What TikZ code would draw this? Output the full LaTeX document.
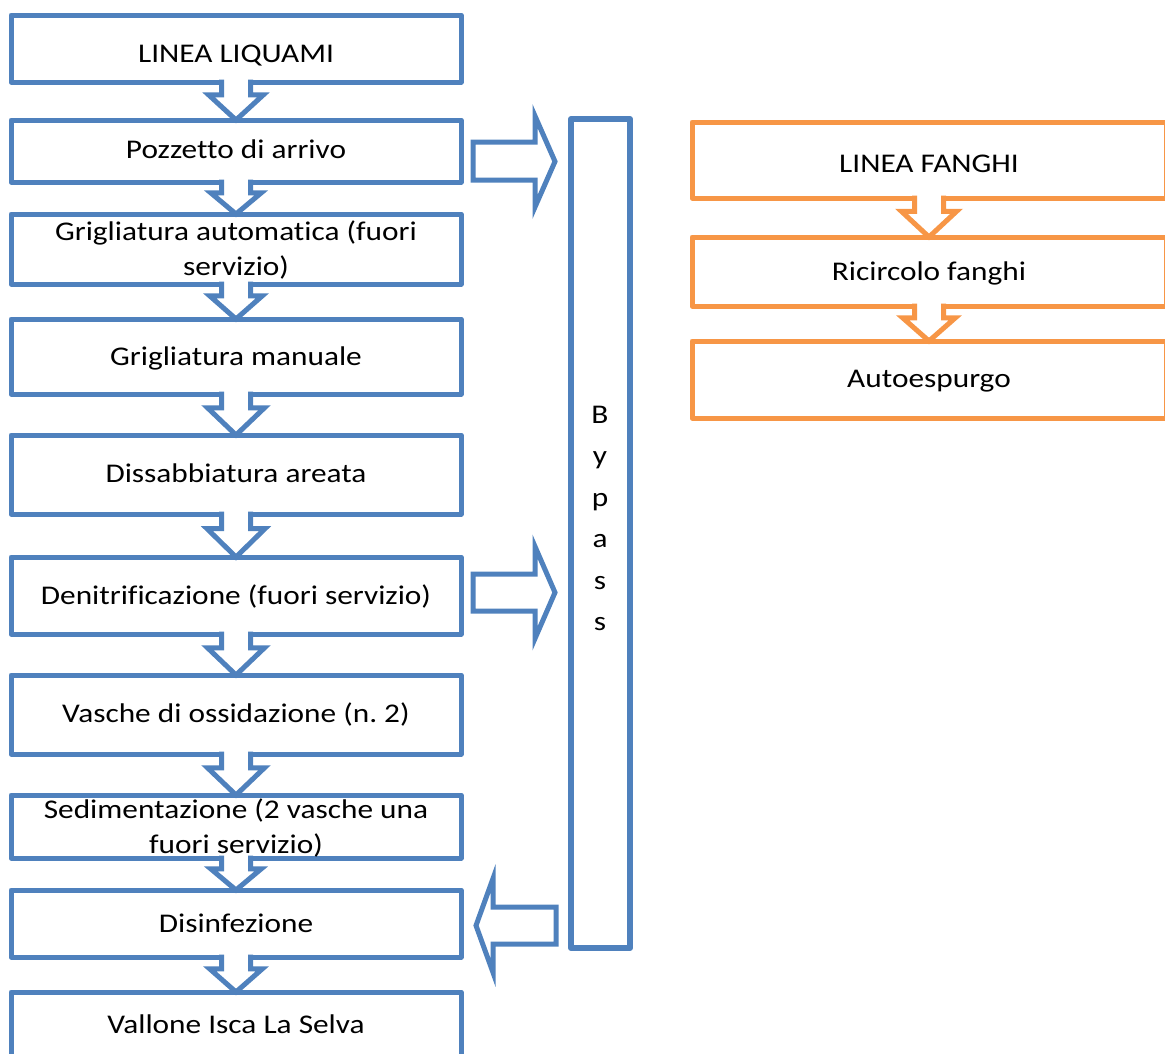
\documentclass[tikz,border=0pt]{standalone}
\usepackage{fontspec}
\setmainfont{Carlito}[FakeStretch=1.16, Ligatures={NoCommon}]
\usetikzlibrary{calc}
\definecolor{flowblue}{HTML}{4F81BD}
\definecolor{flowora}{HTML}{F79646}
\frenchspacing
% centred lines stacked in a \vtop, so the base anchor is the first baseline
\newcommand\linestack[1]{\vtop{\halign{\hfil##\hfil\cr#1\crcr}}}
% hollow downward chevron from the bottom of #1 to the top of #2, colour #3
\newcommand\downchev[3]{%
  \path[fill=white] let \p1=(#1.south), \p2=(#2.north), \n1={\y1-\y2},
      \n2={0.35*\n1+14pt}, \n3={0.66*\n1} in
    (\x1-14.5pt,\y1+2.5pt) -- (\x1-14.5pt,\y2+\n3) -- (\x1-\n2,\y2+\n3)
    -- (\x1,\y2) -- (\x1+\n2,\y2+\n3) -- (\x1+14.5pt,\y2+\n3)
    -- (\x1+14.5pt,\y1+2.5pt) -- cycle;
  \draw[chev,draw=#3] let \p1=(#1.south), \p2=(#2.north), \n1={\y1-\y2},
      \n2={0.35*\n1+14pt}, \n3={0.66*\n1} in
    (\x1-14.5pt,\y1+2.5pt) -- (\x1-14.5pt,\y2+\n3) -- (\x1-\n2,\y2+\n3)
    -- (\x1,\y2) -- (\x1+\n2,\y2+\n3) -- (\x1+14.5pt,\y2+\n3)
    -- (\x1+14.5pt,\y1+2.5pt);
}
\tikzset{
  lbox/.style={rectangle, draw=flowblue, fill=white, line width=5pt, line join=round,
    inner sep=0pt, outer sep=0pt, minimum width=450pt},
  obox/.style={lbox, draw=flowora, minimum width=474pt},
  chev/.style={line width=5pt, line join=miter},
  blockarrow/.style={draw=flowblue, fill=white, line width=5pt, line join=miter},
  txt/.style={font=\fontsize{27}{35}\selectfont, inner sep=0pt, anchor=base, text=black},
}
\begin{document}
\begin{tikzpicture}[x=1pt, y=-1pt]
\useasboundingbox (0,0) rectangle (1165,1053);

% sewage line boxes
\node[lbox, minimum height=67pt] (b1) at (236,48.5) {};
\node[lbox, minimum height=62pt] (b2) at (236,151) {};
\node[lbox, minimum height=70pt] (b3) at (236,249) {};
\node[lbox, minimum height=75pt] (b4) at (236,356.5) {};
\node[lbox, minimum height=79pt] (b5) at (236,474.5) {};
\node[lbox, minimum height=77pt] (b6) at (236,595.5) {};
\node[lbox, minimum height=79pt] (b7) at (236,714.5) {};
\node[lbox, minimum height=63pt] (b8) at (236,826.5) {};
\node[lbox, minimum height=67pt] (b9) at (236,923.5) {};
\node[lbox, minimum height=70pt] (b10) at (236,1027) {};

% bypass column
\node[lbox, line width=6pt, minimum width=59pt, minimum height=829pt] (byp) at (600.5,533.5) {};

% sludge line boxes
\node[obox, minimum height=76pt] (o1) at (929,160) {};
\node[obox, minimum height=69pt] (o2) at (929,271.5) {};
\node[obox, minimum height=77pt] (o3) at (929,379.5) {};

% flow chevrons
\downchev{b1}{b2}{flowblue}
\downchev{b2}{b3}{flowblue}
\downchev{b3}{b4}{flowblue}
\downchev{b4}{b5}{flowblue}
\downchev{b5}{b6}{flowblue}
\downchev{b6}{b7}{flowblue}
\downchev{b7}{b8}{flowblue}
\downchev{b8}{b9}{flowblue}
\downchev{b9}{b10}{flowblue}
\downchev{o1}{o2}{flowora}
\downchev{o2}{o3}{flowora}

% block arrows to and from the bypass
\draw[blockarrow] let \p1=(b2.east), \p2=(byp.west) in
  (\x1+12pt,-142pt) -- (\x2-36pt,-142pt) -- (\x2-36pt,-116pt) -- (\x2-16pt,-161.5pt)
  -- (\x2-36pt,-207pt) -- (\x2-36pt,-180pt) -- (\x1+12pt,-180pt) -- cycle;
\draw[blockarrow] let \p1=(b6.east), \p2=(byp.west) in
  (\x1+12pt,-574pt) -- (\x2-36pt,-574pt) -- (\x2-36pt,-546.5pt) -- (\x2-16pt,-592.5pt)
  -- (\x2-36pt,-638.5pt) -- (\x2-36pt,-611pt) -- (\x1+12pt,-611pt) -- cycle;
\draw[blockarrow] let \p1=(byp.west), \p2=(b9.east) in
  (\x1-15pt,-907pt) -- (\x2+32pt,-907pt) -- (\x2+32pt,-878.5pt) -- (\x2+15pt,-925.5pt)
  -- (\x2+32pt,-972.5pt) -- (\x2+32pt,-944pt) -- (\x1-15pt,-944pt) -- cycle;

% labels
\node[txt] (t1) at (236,62) {LINEA LIQUAMI};
\node[txt] (t2) at (236,158) {Pozzetto di arrivo};
\node[txt] (t3) at (236,240) {\linestack{Grigliatura automatica (fuori\cr servizio)}};
\node[txt] (t4) at (236,365) {Grigliatura manuale};
\node[txt] (t5) at (236,482) {Dissabbiatura areata};
\node[txt] (t6) at (236,604) {Denitrificazione (fuori servizio)};
\node[txt] (t7) at (236,722) {Vasche di ossidazione (n. 2)};
\node[txt] (t8) at (236,818) {\linestack{Sedimentazione (2 vasche una\cr fuori servizio)}};
\node[txt] (t9) at (236,932) {Disinfezione};
\node[txt] (t10) at (236,1033) {Vallone Isca La Selva};
\node[txt, font=\fontsize{27}{41.5}\selectfont] (tb) at (600,423)
  {\linestack{B\cr y\cr p\cr a\cr s\cr s}};
\node[txt] (u1) at (929,172) {LINEA FANGHI};
\node[txt] (u2) at (929,280) {Ricircolo fanghi};
\node[txt] (u3) at (929,387) {Autoespurgo};
\end{tikzpicture}
\end{document}
